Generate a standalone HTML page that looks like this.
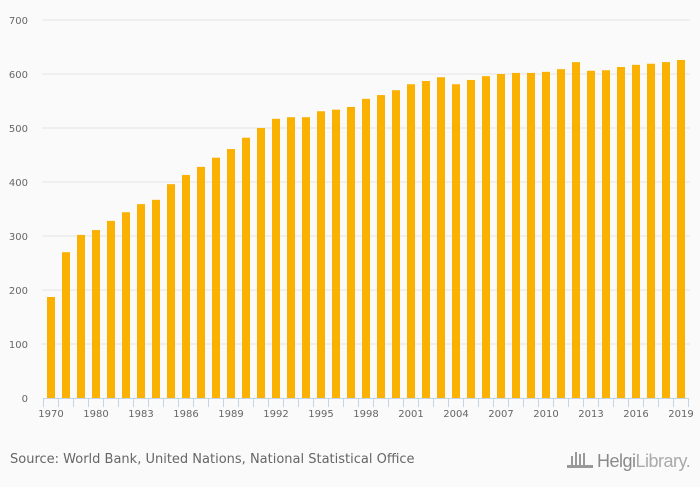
<!DOCTYPE html>
<html><head><meta charset="utf-8"><style>
html,body{margin:0;padding:0;background:#fafafa;}
body{width:700px;height:483px;overflow:hidden;font-family:"DejaVu Sans","Liberation Sans",sans-serif;}
</style></head><body>
<svg id="chart" width="700" height="483" xmlns="http://www.w3.org/2000/svg" font-family="DejaVu Sans, Liberation Sans, sans-serif">
<rect width="700" height="483" fill="#fafafa"/>
<g id="grid"></g><g id="bars"></g><g id="xaxis"></g><g id="yaxis"></g>
<text x="10" y="463" font-size="13" fill="#666">Source: World Bank, United Nations, National Statistical Office</text>
<g>
<g fill="#999"><rect x="571" y="456" width="2" height="9"/><rect x="575" y="452" width="2" height="13"/><rect x="579" y="454" width="2" height="11"/><rect x="583" y="453" width="2" height="12"/><rect x="567" y="465" width="26" height="3"/></g>
<text x="597" y="467" font-size="18" fill="#8a8a8a" font-family="Liberation Sans, sans-serif" letter-spacing="-0.5">Helgi<tspan fill="#aaa">Library.</tspan></text>
</g>
</svg>
<script>
const years=["1970","1975","1978","1980","1981","1982","1983","1984","1985","1986","1987","1988","1989","1990","1991","1992","1993","1994","1995","1996","1997","1998","1999","2000","2001","2002","2003","2004","2005","2006","2007","2008","2009","2010","2011","2012","2013","2014","2015","2016","2017","2018","2019"];
const values=[187,270,302,311,328,344,359,367,396,413,428,445,461,482,500,517,520,520,531,534,539,554,561,570,581,587,594,581,589,596,600,602,602,604,609,622,606,607,613,617,619,622,626];
const yTicks=[0,100,200,300,400,500,600,700];
const shownLabels=["1970","1980","1983","1986","1989","1992","1995","1998","2001","2004","2007","2010","2013","2016","2019"];
const NS="http://www.w3.org/2000/svg";
const x0=43.5,step=15,y0=398,pxPer=0.54,bw=8;
const xc=i=>x0+step*i+step/2;
const ys=v=>y0-v*pxPer;
function mk(tag,attrs,parent){const e=document.createElementNS(NS,tag);for(const k in attrs)e.setAttribute(k,attrs[k]);document.getElementById(parent).appendChild(e);return e;}
yTicks.forEach(t=>{
  if(t>0){const l=mk('line',{x1:42,x2:690,y1:ys(t),y2:ys(t),stroke:'#e4e4e4','stroke-width':1},'grid');
  
  }
  const tx=mk('text',{x:28,y:ys(t)+4,'text-anchor':'end','font-size':10,fill:'#666'},'yaxis');
  tx.textContent=t;
  
  
});
values.forEach((v,i)=>{
  const r=mk('rect',{x:xc(i)-bw/2,y:ys(v),width:bw,height:v*pxPer,fill:'#fbb101'},'bars');
  
  
});
const ax=mk('line',{x1:x0,x2:x0+step*years.length,y1:y0+0.5,y2:y0+0.5,stroke:'#c6d2e6','stroke-width':1},'xaxis');


for(let i=0;i<=years.length;i++){
  const tk=mk('line',{x1:x0+step*i,x2:x0+step*i,y1:y0,y2:y0+9,stroke:'#c6d2e6','stroke-width':1},'xaxis');
  
  
}
years.forEach((y,i)=>{
  if(!shownLabels.includes(y))return;
  const tx=mk('text',{x:xc(i),y:417,'text-anchor':'middle','font-size':10,fill:'#666'},'xaxis');
  tx.textContent=y;
  
  
});
</script>
</body></html>
